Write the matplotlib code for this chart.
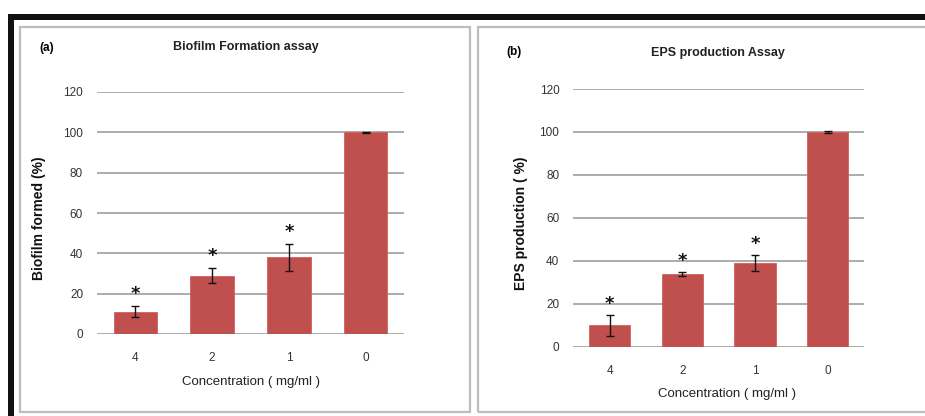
import matplotlib
matplotlib.use("Agg")
import matplotlib.pyplot as plt
from matplotlib.patches import Rectangle

plt.rcParams['font.family'] = ['Liberation Sans', 'DejaVu Sans']

conc = ['4', '2', '1', '0']

biofilm = [11, 29, 38, 100]
biofilm_err = [2.7, 3.5, 6.8, 0.3]
biofilm_star = [True, True, True, False]

eps = [10, 34, 39, 100]
eps_err = [4.8, 1.0, 3.7, 0.3]
eps_star = [True, True, True, False]

W, H = 925, 416
fig = plt.figure(figsize=(W / 100, H / 100), dpi=100)


def fx(x):
    return x / W


def fy(y):
    return 1 - y / H


def rect(x0, y0, x1, y1, **kw):
    fig.patches.append(Rectangle((fx(x0), fy(y1)), fx(x1) - fx(x0), fy(y0) - fy(y1),
                                 transform=fig.transFigure, figure=fig, **kw))


# outer black frame and the two panel boxes
rect(8, 14, 926, 20, facecolor='#111111', edgecolor='none')
rect(8, 14, 14, 417, facecolor='#111111', edgecolor='none')
rect(20, 27, 469.5, 411.7, facecolor='none', edgecolor='#BDBDBD', lw=1.6)
rect(477.7, 27, 940, 411.7, facecolor='none', edgecolor='#BDBDBD', lw=1.6)

bar_color = '#C0504D'
grid_color = '#A6A6A6'


def panel(ax, vals, errs, stars, ylabel, star_off, ylab_xy, xlab_xy):
    x = range(len(conc))
    ax.set_axisbelow(True)
    ax.yaxis.grid(True, color=grid_color, lw=1.3)
    ax.bar(x, vals, width=0.57, color=bar_color, edgecolor='#D0605C', lw=0.6, zorder=2)
    ax.errorbar(x, vals, yerr=errs, fmt='none', ecolor='#111111', elinewidth=1.0,
                capsize=3, capthick=1.0, zorder=3)
    for i, s in enumerate(stars):
        if s:
            ax.text(i, vals[i] + errs[i] + star_off, '*', ha='center', va='center',
                    fontsize=13, fontweight='bold', color='#111111', family='DejaVu Sans')
    ax.set_xlim(-0.5, len(conc) - 0.5)
    ax.set_ylim(0, 120)
    ax.set_yticks(range(0, 121, 20))
    ax.set_xticks(list(x))
    ax.set_xticklabels(conc)
    for sp in ax.spines.values():
        sp.set_visible(False)
    ax.tick_params(axis='both', length=0, labelsize=8.5, colors='#333333')
    ax.tick_params(axis='y', pad=10)
    ax.tick_params(axis='x', pad=13)
    ax.set_ylabel(ylabel, fontsize=10, fontweight='bold', color='#111111')
    ax.yaxis.set_label_coords(*ylab_xy)
    ax.set_xlabel('Concentration ( mg/ml )', fontsize=9.5, color='#222222')
    ax.xaxis.set_label_coords(*xlab_xy)


ax_a = fig.add_axes([fx(97), fy(334), fx(404) - fx(97), fy(92) - fy(334)])
panel(ax_a, biofilm, biofilm_err, biofilm_star, 'Biofilm formed (%)', 6,
      (-0.166, 0.479), (0.5, -0.172))

ax_b = fig.add_axes([fx(573.3), fy(346.7), fx(864) - fx(573.3), fy(89) - fy(346.7)])
panel(ax_b, eps, eps_err, eps_star, 'EPS production ( %)', 5,
      (-0.156, 0.48), (0.528, -0.160))

fig.text(fx(245.7), fy(47), 'Biofilm Formation assay', ha='center', va='center',
         fontsize=9, fontweight='bold', color='#222222')
fig.text(fx(47), fy(48), '(a)', ha='center', va='center', fontsize=8.5, fontweight='bold')
fig.text(fx(718), fy(53), 'EPS production Assay', ha='center', va='center',
         fontsize=9, fontweight='bold', color='#222222')
fig.text(fx(514), fy(52), '(b)', ha='center', va='center', fontsize=8.5, fontweight='bold')

fig.savefig('out.png', dpi=100)
